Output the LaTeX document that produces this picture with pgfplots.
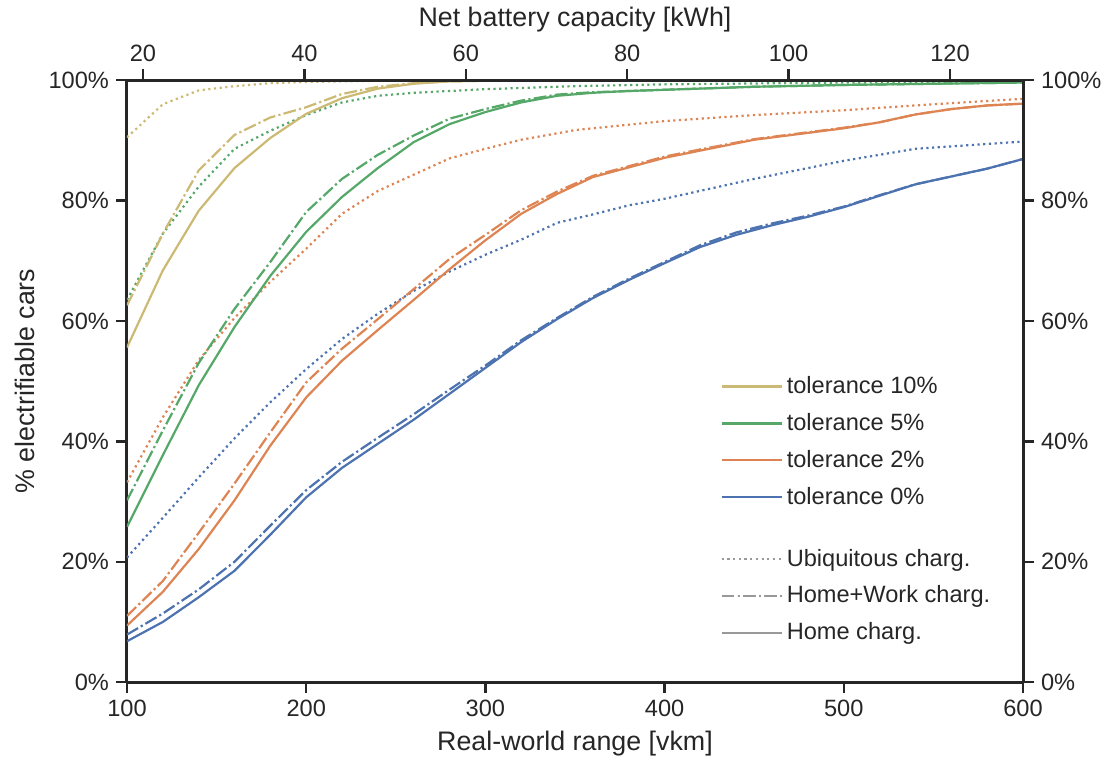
\documentclass[border=0pt]{standalone}
\usepackage{pgfplots}
\pgfplotsset{compat=1.18}
\usepackage{fontspec}
\setmainfont{Liberation Sans}
\definecolor{cb}{HTML}{4C72B0}
\definecolor{co}{HTML}{DD8452}
\definecolor{cg}{HTML}{55A868}
\definecolor{cy}{HTML}{CCB974}
\definecolor{axc}{HTML}{262626}
\definecolor{lg}{HTML}{999999}
\tikzset{
  hm/.style={line width=1.1pt, solid},
  hw/.style={line width=1.1pt, dash pattern=on 6.4pt off 1.6pt on 1.1pt off 1.6pt},
  ub/.style={line width=1.1pt, dash pattern=on 1.1pt off 1.75pt},
}
\newcommand{\fs}{\fontsize{11.8}{14}\selectfont}
\newcommand{\fl}{\fontsize{13.4}{16}\selectfont}
\begin{document}
\begin{tikzpicture}
\pgfplotsset{
  common/.style={
    scale only axis, width=448pt, height=301pt,
    ymin=0, ymax=100,
    tick align=outside, major tick length=5.5pt,
    tick style={line width=1.2pt, color=axc},
    axis line style={line width=1.5pt, color=axc},
    tick label style={font=\fs, color=axc},
    label style={font=\fl, color=axc},
    /pgf/number format/assume math mode=true,
    /pgf/number format/1000 sep={},
    ytick={0,20,...,100},
    yticklabel={\pgfmathprintnumber{\tick}\%},
  }
}
\begin{axis}[common,
  name=main,
  xmin=100, xmax=600,
  axis x line*=bottom, axis y line*=left,
  xtick={100,200,...,600},
  xlabel={Real-world range [vkm]},
  ylabel={\% electrifiable cars},
  legend style={at={(0.662,0.515)}, anchor=north west, draw=none, fill=none,
    font=\fs, text=axc, inner sep=0pt, row sep=4.4pt,
    cells={anchor=west}},
  legend image code/.code={\draw[#1] (0pt,0pt) -- (25pt,0pt); \path (0pt,0pt) -- (30pt,0pt);},
]
% ---------- legend ----------
\addlegendimage{cy, line width=1.1pt}
\addlegendentry{tolerance 10\%}
\addlegendimage{cg, line width=1.1pt}
\addlegendentry{tolerance 5\%}
\addlegendimage{co, line width=1.1pt}
\addlegendentry{tolerance 2\%}
\addlegendimage{cb, line width=1.1pt}
\addlegendentry{tolerance 0\%}
\addlegendimage{empty legend}
\addlegendentry{\rule{0pt}{2.5pt}}
\addlegendimage{lg, ub}
\addlegendentry{Ubiquitous charg.}
\addlegendimage{lg, hw}
\addlegendentry{Home+Work charg.}
\addlegendimage{lg, hm}
\addlegendentry{Home charg.}

% ---------- tolerance 0% (blue) ----------
\addplot[cb, hm, forget plot] coordinates {
(100,6.8) (120,10.0) (140,14.1) (160,18.5) (180,24.5) (200,30.7) (220,35.6)
(240,39.6) (260,43.6) (280,47.9) (300,52.2) (320,56.5) (340,60.3) (360,63.8)
(380,66.8) (400,69.6) (420,72.3) (440,74.3) (460,75.9) (480,77.3) (500,78.9)
(520,80.8) (540,82.7) (560,84.0) (580,85.3) (600,86.9)};
\addplot[cb, hw, forget plot] coordinates {
(100,7.9) (120,11.4) (140,15.4) (160,20.0) (180,26.0) (200,31.9) (220,36.6)
(240,40.6) (260,44.5) (280,48.6) (300,52.6) (320,56.8) (340,60.5) (360,64.0)
(380,67.0) (400,69.8) (420,72.6) (440,74.7) (460,76.2) (480,77.5) (500,79.0)
(520,80.9) (540,82.7) (560,84.0) (580,85.3) (600,86.9)};
\addplot[cb, ub, forget plot] coordinates {
(100,20.7) (120,27.3) (140,34.0) (160,40.5) (180,46.5) (200,52.0) (220,57.0)
(240,61.2) (260,65.0) (280,68.2) (300,71.0) (320,73.5) (340,76.3) (360,77.7)
(380,79.2) (400,80.3) (450,83.6) (500,86.6) (540,88.6) (580,89.4) (600,89.8)};
% ---------- tolerance 2% (orange) ----------
\addplot[co, hm, forget plot] coordinates {
(100,9.4) (120,15.0) (140,22.1) (160,30.2) (180,39.3) (200,47.3) (220,53.4)
(240,58.5) (260,63.5) (280,68.6) (300,73.4) (320,77.8) (340,81.1) (360,83.9)
(380,85.5) (400,87.1) (420,88.3) (450,90.1) (500,92.0) (520,93.0) (540,94.3)
(560,95.2) (580,95.8) (600,96.1)};
\addplot[co, hw, forget plot] coordinates {
(100,11.0) (120,16.8) (140,24.8) (160,33.0) (180,41.5) (200,49.8) (220,55.4)
(240,60.3) (260,65.3) (280,70.3) (300,74.3) (320,78.4) (340,81.5) (360,84.1)
(380,85.7) (400,87.3) (420,88.5) (450,90.2) (500,92.1) (520,93.0) (540,94.3)
(560,95.2) (580,95.8) (600,96.1)};
\addplot[co, ub, forget plot] coordinates {
(100,33.2) (120,44.0) (140,53.5) (160,60.5) (180,66.5) (200,72.0) (220,77.8)
(240,81.6) (260,84.3) (280,87.0) (300,88.6) (320,90.1) (350,91.7) (400,93.2)
(450,94.2) (500,95.0) (550,96.0) (600,96.9)};
% ---------- tolerance 5% (green) ----------
\addplot[cg, hm, forget plot] coordinates {
(100,25.8) (120,37.7) (140,49.3) (160,59.0) (180,67.5) (200,74.8) (220,80.6)
(240,85.4) (260,89.7) (280,92.7) (300,94.7) (320,96.3) (340,97.4) (360,97.9)
(380,98.2) (400,98.4) (450,98.9) (500,99.2) (550,99.4) (600,99.6)};
\addplot[cg, hw, forget plot] coordinates {
(100,30.2) (120,41.8) (140,53.0) (160,62.0) (180,69.8) (200,78.1) (220,83.6)
(240,87.6) (260,90.8) (280,93.6) (300,95.2) (320,96.6) (340,97.6) (360,98.0)
(380,98.2) (400,98.4) (450,98.9) (500,99.2) (550,99.4) (600,99.6)};
\addplot[cg, ub, forget plot] coordinates {
(100,63.5) (120,74.5) (140,82.3) (160,88.6) (180,91.6) (200,94.2) (220,96.3)
(240,97.4) (260,97.9) (300,98.5) (350,99.0) (400,99.3) (500,99.6) (600,99.8)};
% ---------- tolerance 10% (yellow) ----------
\addplot[cy, hm, forget plot] coordinates {
(100,55.6) (120,68.4) (140,78.3) (160,85.4) (180,90.4) (200,94.4) (220,97.0)
(240,98.6) (260,99.4) (280,99.8) (300,99.9) (350,100) (600,100)};
\addplot[cy, hw, forget plot] coordinates {
(100,62.6) (120,74.5) (140,85.0) (160,90.9) (180,93.8) (200,95.5) (220,97.7)
(240,98.9) (260,99.5) (280,99.8) (300,99.9) (350,100) (600,100)};
\addplot[cy, ub, forget plot] coordinates {
(100,90.5) (120,96.0) (140,98.3) (160,99.0) (180,99.5) (200,99.7) (240,99.9)
(300,100) (600,100)};
\end{axis}
\begin{axis}[common,
  xmin=18.02, xmax=129.05,
  axis x line*=top, axis y line*=right,
  xtick={20,40,...,120},
  xlabel={Net battery capacity [kWh]},
]
\addplot[draw=none, forget plot] coordinates {(50,50)};
\end{axis}
\path (main.south west) ++(-63.5pt,-37.5pt) coordinate (bl);
\path (main.south west) ++(448pt+43.5pt,301pt+38.5pt) coordinate (tr);
\path (bl) rectangle (tr);
\end{tikzpicture}
\end{document}
